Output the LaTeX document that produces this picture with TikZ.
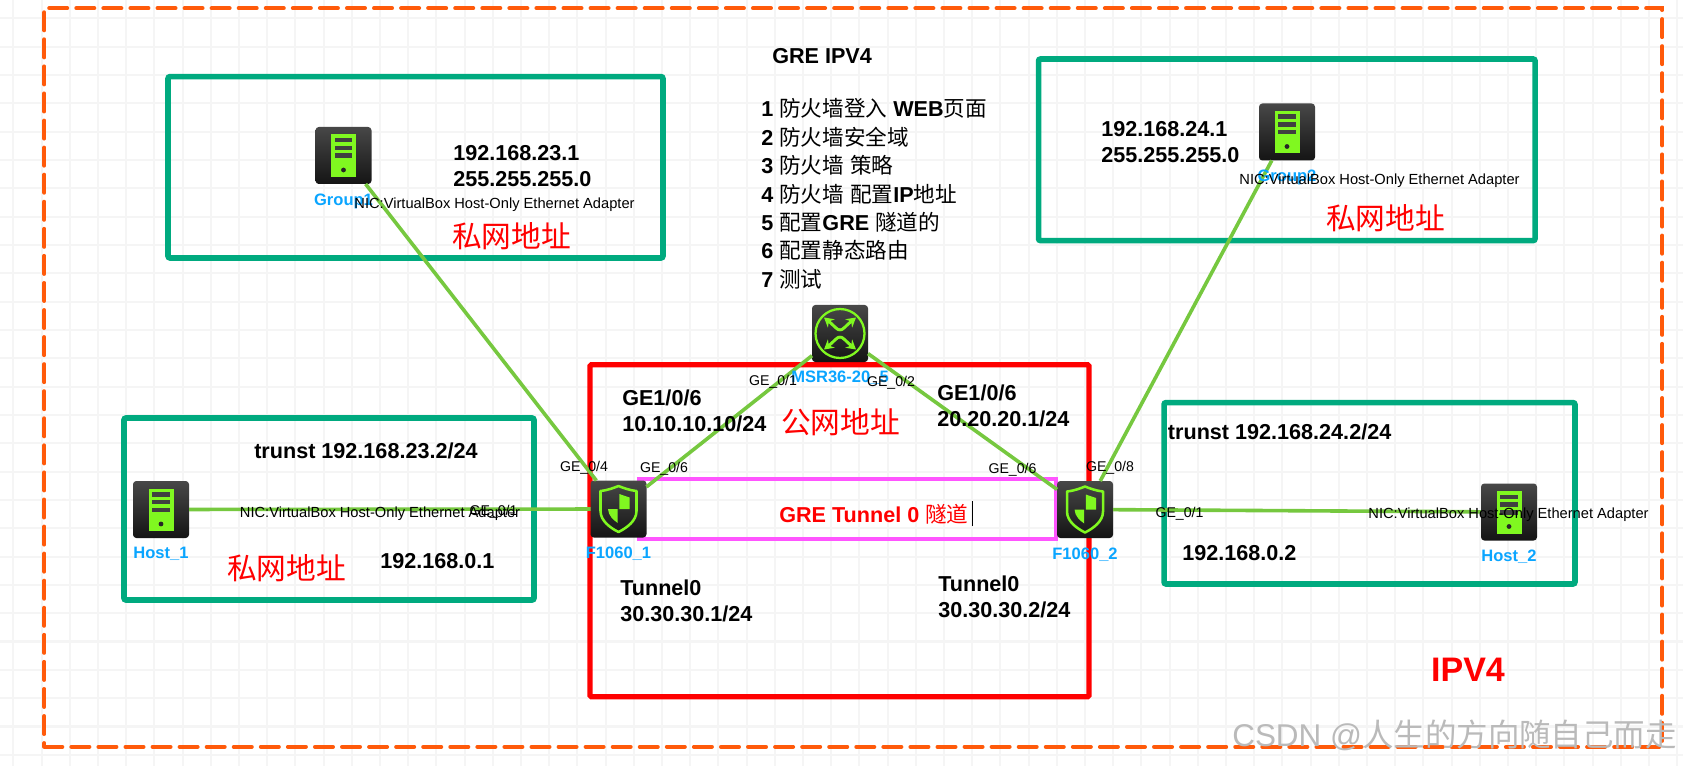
\documentclass[tikz,border=0pt]{standalone}
\usepackage{xcolor}
\usepackage{fontspec}
\setmainfont{Liberation Sans}
\newfontfamily\cjk{Noto Sans CJK SC}
\usetikzlibrary{arrows.meta, positioning}
\definecolor{zonegreen}{RGB}{0,170,127}
\definecolor{linkgreen}{RGB}{118,200,63}
\definecolor{glyphgreen}{RGB}{128,248,32}
\definecolor{labelblue}{RGB}{10,165,255}
\definecolor{outerorange}{RGB}{255,90,10}
\definecolor{pinkline}{RGB}{255,85,255}
\newcommand{\zh}[1]{{\cjk\mdseries #1}}
\begin{document}
\begin{tikzpicture}[x=0.75pt, y=-0.75pt,
    gridline/.style={color=black!4, line width=1.6pt},
    outerzone/.style={draw=outerorange, line width=3pt, line cap=round, dash pattern=on 13.5pt off 6.8pt, minimum width=1213.5pt, minimum height=554pt, inner sep=0pt},
    zone/.style={draw=zonegreen, line width=4.2pt, rounded corners=1.5pt, inner sep=0pt},
    redzone/.style={draw=red, line width=4pt, rounded corners=1pt, inner sep=0pt},
    tunnelbox/.style={draw=pinkline, line width=3pt, inner sep=0pt},
    device/.style={rounded corners=2.5pt, top color=black!72, bottom color=black!92, minimum width=42pt, minimum height=42.75pt, inner sep=0pt, outer sep=0pt},
    servernode/.style={device, path picture={
        \begin{scope}[sharp corners, shift={(path picture bounding box.center)}]
        \fill[glyphgreen] (-12.5,-21) rectangle (12.5,21.5);
        \foreach \barpos in {-17.5,-9.8,-2} {\fill[black!75] (-8.7,\barpos) rectangle (8.7,\barpos+4.5);}
        \fill[black!85] (0,14.5) circle (2.4);
        \end{scope}}},
    firewallnode/.style={device, path picture={
        \begin{scope}[sharp corners, shift={(path picture bounding box.center)}]
        \draw[glyphgreen, line width=1.9pt, line join=round] (-18,-18) .. controls (-10,-19) and (-5,-21) .. (0,-23) .. controls (5,-21) and (10,-19) .. (18,-18) -- (18,2) .. controls (18,12) and (8,19) .. (0,23) .. controls (-8,19) and (-18,12) .. (-18,2) -- cycle;
        \fill[glyphgreen] (0.8,-15) -- (11,-11.5) -- (11,0) -- (0.8,0) -- cycle;
        \fill[glyphgreen] (-10.5,0) -- (-0.8,0) -- (-0.8,14) .. controls (-5,11) and (-10,7) .. (-10.5,0) -- cycle;
        \end{scope}}},
    routernode/.style={device, path picture={
        \begin{scope}[sharp corners, shift={(path picture bounding box.center)}]
        \draw[glyphgreen, line width=1.7pt] (0,0) circle (24.5);
        \foreach \sx in {-1,1} {\foreach \sy in {-1,1} {
            \draw[glyphgreen, line width=2.2pt, -{Stealth[length=7pt, width=8pt]}] (0,\sy*3.5) .. controls (\sx*3,\sy*3.5) and (\sx*5,\sy*7) .. (\sx*16,\sy*16);
        }}
        \end{scope}}},
    link/.style={draw=linkgreen, line width=2.7pt},
    devlabel/.style={font=\fontsize{12.4}{15}\selectfont\bfseries, color=labelblue, inner sep=0pt},
    addr/.style={font=\fontsize{16.2}{19.5}\selectfont\bfseries, align=left, anchor=west, inner sep=0pt, yshift=-1pt},
    nic/.style={font=\fontsize{11}{13}\selectfont, inner sep=0pt, yshift=-0.7pt},
    port/.style={font=\fontsize{10.6}{13}\selectfont, inner sep=0pt, yshift=-1pt},
    zonelabel/.style={font=\fontsize{22.3}{26}\selectfont\cjk\mdseries, color=red, inner sep=0pt},
]
\useasboundingbox (0,0) rectangle (1683,766);
\fill[white] (0,0) rectangle (1683,766);
% backdrop
\foreach \gx in {0,...,59} {\draw[gridline] (13.4+28.2*\gx,0) -- (13.4+28.2*\gx,766);}
\foreach \gy in {0,...,26} {\draw[gridline] (0,18.3+28.33*\gy) -- (1683,18.3+28.33*\gy);}
% zones
\node[outerzone] (outer) at (853.3,377.5) {};
\node[zone, minimum width=371.2pt, minimum height=136pt] (zonegroup1) at (415.5,167.3) {};
\node[zone, minimum width=372.4pt, minimum height=136.2pt] (zonegroup2) at (1286.8,149.8) {};
\node[zone, minimum width=307.5pt, minimum height=136.5pt] (zonehost1) at (329,509) {};
\node[zone, minimum width=308.2pt, minimum height=136pt] (zonehost2) at (1369.5,493.3) {};
\node[redzone, minimum width=374.2pt, minimum height=249pt] (zonepublic) at (839.5,530.8) {};
\node[tunnelbox, minimum width=312.8pt, minimum height=45pt] (tunnel) at (847.5,508.7) {};
% devices
\node[servernode] (group1) at (343.5,155.5) {};
\node[servernode] (group2) at (1287,132) {};
\node[servernode] (host1) at (161,509.5) {};
\node[servernode] (host2) at (1509,512) {};
\node[firewallnode] (fw1) at (618.5,509) {};
\node[firewallnode] (fw2) at (1085,509.5) {};
\node[routernode] (msr) at (840,333.5) {};
% links
\draw[link] (group1) -- (fw1); \draw[link] (host1) -- (fw1); \draw[link] (fw1) -- (msr);
\draw[link] (msr) -- (fw2); \draw[link] (group2) -- (fw2); \draw[link] (fw2) -- (host2);
% device names
\node[devlabel, below=7pt of group1] (namegroup1) {Group1};
\node[devlabel, below=7pt of group2] (namegroup2) {Group2};
\node[devlabel, below=7pt of host1] (namehost1) {Host\_1};
\node[devlabel, below=7pt of host2] (namehost2) {Host\_2};
\node[devlabel, below=7pt of fw1] (namefw1) {F1060\_1};
\node[devlabel, below=7pt of fw2] (namefw2) {F1060\_2};
\node[devlabel, below=6.5pt of msr] (namemsr) {MSR36-20\_5};
% nic and port labels
\node[nic] (nicgroup1) at (494.5,204) {NIC:VirtualBox Host-Only Ethernet Adapter};
\node[nic] (nicgroup2) at (1379.5,180) {NIC:VirtualBox Host-Only Ethernet Adapter};
\node[nic] (nichost1) at (380,512.7) {NIC:VirtualBox Host-Only Ethernet Adapter};
\node[nic] (nichost2) at (1508.5,514) {NIC:VirtualBox Host-Only Ethernet Adapter};
\node[port] (porthost1) at (493.5,510.7) {GE\_0/1};
\node[port] (portfw1a) at (584,466.7) {GE\_0/4};
\node[port] (portfw1b) at (664,467.7) {GE\_0/6};
\node[port] (portmsra) at (773,380.7) {GE\_0/1};
\node[port] (portmsrb) at (891,381) {GE\_0/2};
\node[port] (portfw2a) at (1012.5,468.7) {GE\_0/6};
\node[port] (portfw2b) at (1110,466.7) {GE\_0/8};
\node[port] (porthost2) at (1179.5,512.7) {GE\_0/1};
% addresses
\node[addr] (addrgroup1) at (453,165) {192.168.23.1\\255.255.255.0};
\node[addr] (addrgroup2) at (1101,141) {192.168.24.1\\255.255.255.0};
\node[addr] (trusthost1) at (254,450) {trunst 192.168.23.2/24};
\node[addr] (trusthost2) at (1167.7,431) {trunst 192.168.24.2/24};
\node[addr] (addrhost1) at (380,560) {192.168.0.1};
\node[addr] (addrhost2) at (1182,552) {192.168.0.2};
\node[addr] (addrfw1) at (622,410) {GE1/0/6\\10.10.10.10/24};
\node[addr] (addrfw2) at (937,405) {GE1/0/6\\20.20.20.1/24};
\node[addr] (tun1) at (620,600) {Tunnel0\\30.30.30.1/24};
\node[addr] (tun2) at (938,596) {Tunnel0\\30.30.30.2/24};
% headings
\node[addr] (title) at (772,55) {GRE IPV4};
\node[addr, font=\fontsize{16.2}{21.3}\selectfont\bfseries] (tasklist) at (761,192.5) {1 \zh{防火墙登入} WEB\zh{页面}\\2 \zh{防火墙安全域}\\3 \zh{防火墙} \zh{策略}\\4 \zh{防火墙} \zh{配置}IP\zh{地址}\\5 \zh{配置}GRE \zh{隧道的}\\6 \zh{配置静态路由}\\7 \zh{测试}};
\node[zonelabel] (privgroup1) at (511.5,236) {私网地址};
\node[zonelabel] (privgroup2) at (1385.5,218) {私网地址};
\node[zonelabel] (privhost1) at (286.5,568) {私网地址};
\node[zonelabel] (pubzone) at (840.5,422) {公网地址};
\node[addr, color=red] (tunnelname) at (779,513) {GRE Tunnel 0 \zh{隧道}};
\node[fill=black, minimum width=1pt, minimum height=18.75pt, inner sep=0pt] (caret) at (972.7,513) {};
\node[font=\fontsize{25.5}{30}\selectfont\bfseries, color=red, inner sep=0pt] (ipvfour) at (1468,670) {IPV4};
\node[font=\fontsize{23.6}{28}\selectfont, color=black!27, anchor=west, inner sep=0pt] (mark) at (1232,735) {CSDN @{\cjk 人生的方向随自己而走}};
\end{tikzpicture}
\end{document}
